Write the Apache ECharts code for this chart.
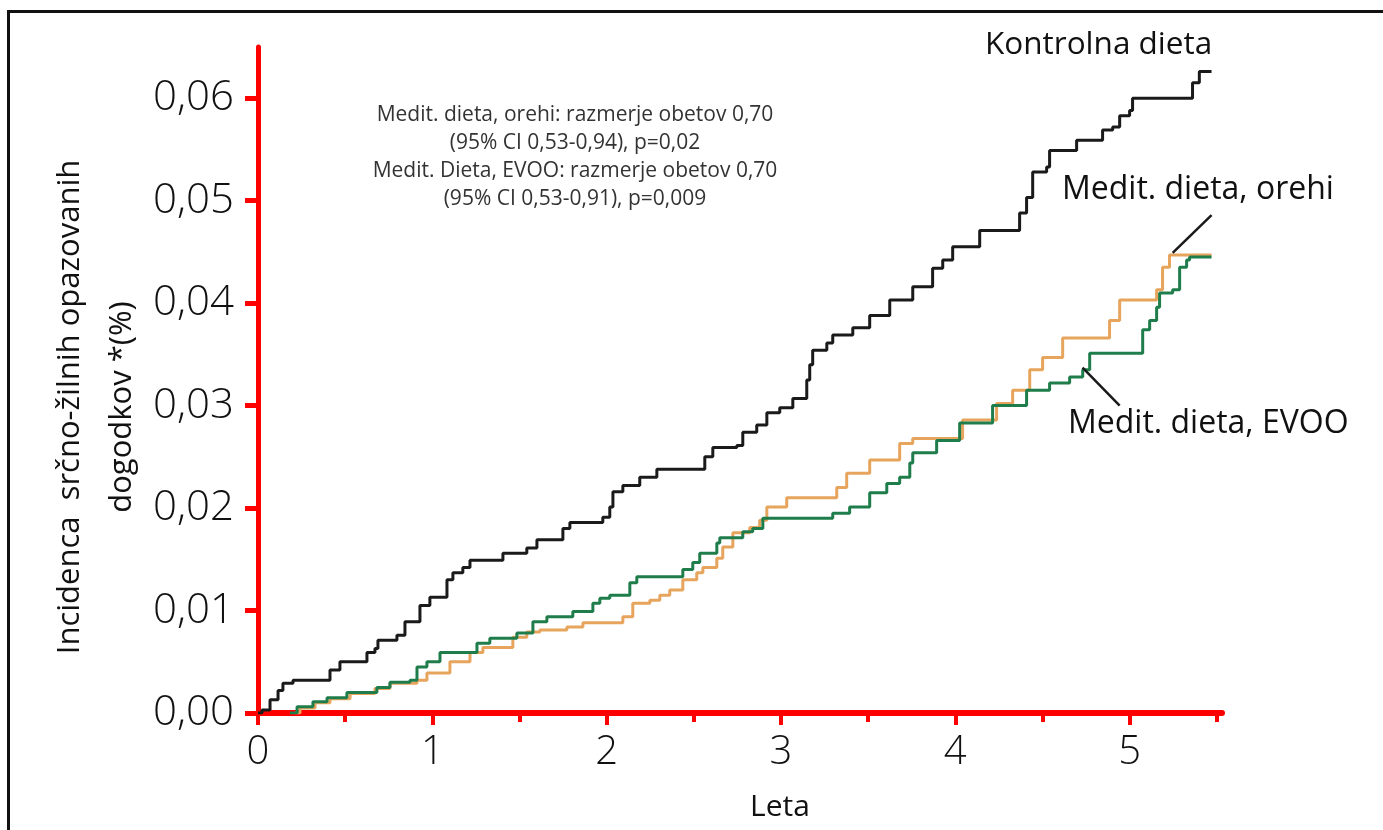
<!DOCTYPE html>
<html>
<head>
<meta charset="utf-8">
<title>Incidenca srčno-žilnih dogodkov</title>
<script src="https://cdn.jsdelivr.net/npm/echarts@6.0.0/dist/echarts.min.js"></script>
<style>
  html, body { margin: 0; padding: 0; background: #ffffff; }
  #char1 { width: 1383px; height: 830px; }
</style>
</head>
<body>
<div id="char1"></div>
<script>
// leta, kumulativna incidenca (step points: time of event, new level)
var controlData = [
    [0, 0], [0.023, 0.0003], [0.069, 0.0013], [0.115, 0.0022], [0.143, 0.0029], [0.201, 0.0032],
    [0.413, 0.0042], [0.470, 0.0050], [0.625, 0.0059], [0.671, 0.0063], [0.688, 0.0071], [0.797, 0.0076],
    [0.843, 0.0089], [0.929, 0.0105], [0.986, 0.0113], [1.084, 0.0130], [1.118, 0.0137], [1.175, 0.0142],
    [1.216, 0.0149], [1.405, 0.0156], [1.542, 0.0161], [1.600, 0.0169], [1.749, 0.0180], [1.789, 0.0186],
    [1.978, 0.0191], [2.018, 0.0201], [2.036, 0.0216], [2.093, 0.0222], [2.190, 0.0230], [2.288, 0.0238],
    [2.563, 0.0250], [2.609, 0.0259], [2.747, 0.0261], [2.781, 0.0274], [2.861, 0.0281], [2.919, 0.0293],
    [2.993, 0.0298], [3.068, 0.0307], [3.148, 0.0325], [3.165, 0.0340], [3.182, 0.0354], [3.263, 0.0361],
    [3.297, 0.0369], [3.412, 0.0376], [3.509, 0.0388], [3.624, 0.0403], [3.756, 0.0416], [3.870, 0.0434],
    [3.928, 0.0442], [3.985, 0.0455], [4.140, 0.0471], [4.369, 0.0488], [4.409, 0.0503], [4.444, 0.0528],
    [4.524, 0.0533], [4.541, 0.0549], [4.696, 0.0559], [4.845, 0.0569], [4.903, 0.0572], [4.943, 0.0583],
    [5.000, 0.0588], [5.017, 0.0600], [5.361, 0.0615], [5.400, 0.0626], [5.470, 0.0626]
];
var walnutData = [
    [0.212, 0], [0.241, 0.0005], [0.327, 0.0010], [0.413, 0.0014], [0.528, 0.0019], [0.671, 0.0024],
    [0.757, 0.0029], [0.912, 0.0032], [0.969, 0.0039], [1.101, 0.0050], [1.216, 0.0059], [1.290, 0.0064],
    [1.462, 0.0074], [1.542, 0.0079], [1.617, 0.0081], [1.772, 0.0084], [1.864, 0.0088], [2.093, 0.0094],
    [2.150, 0.0107], [2.248, 0.0110], [2.305, 0.0115], [2.362, 0.0120], [2.437, 0.0130], [2.517, 0.0137],
    [2.552, 0.0142], [2.632, 0.0151], [2.666, 0.0162], [2.724, 0.0176], [2.821, 0.0181], [2.878, 0.0188],
    [2.919, 0.0201], [3.033, 0.0210], [3.320, 0.0220], [3.377, 0.0234], [3.509, 0.0247], [3.681, 0.0263],
    [3.756, 0.0268], [4.042, 0.0286], [4.237, 0.0302], [4.329, 0.0315], [4.427, 0.0335], [4.501, 0.0347],
    [4.616, 0.0366], [4.885, 0.0383], [4.943, 0.0403], [5.155, 0.0413], [5.189, 0.0435], [5.229, 0.0447],
    [5.470, 0.0447]
];
var evooData = [
    [0.183, 0], [0.224, 0.0006], [0.315, 0.0011], [0.396, 0.0015], [0.510, 0.0020], [0.682, 0.0025],
    [0.757, 0.0030], [0.872, 0.0032], [0.912, 0.0045], [0.969, 0.0050], [1.044, 0.0059], [1.256, 0.0068],
    [1.330, 0.0073], [1.485, 0.0078], [1.577, 0.0089], [1.657, 0.0094], [1.806, 0.0099], [1.921, 0.0107],
    [1.961, 0.0112], [2.018, 0.0115], [2.133, 0.0127], [2.173, 0.0133], [2.437, 0.0140], [2.494, 0.0147],
    [2.534, 0.0156], [2.632, 0.0166], [2.649, 0.0171], [2.781, 0.0177], [2.838, 0.0180], [2.896, 0.0190],
    [3.297, 0.0195], [3.394, 0.0201], [3.509, 0.0215], [3.607, 0.0224], [3.681, 0.0230], [3.739, 0.0244],
    [3.756, 0.0254], [3.893, 0.0266], [4.025, 0.0283], [4.214, 0.0300], [4.409, 0.0315], [4.541, 0.0322],
    [4.656, 0.0328], [4.731, 0.0335], [4.771, 0.0351], [5.075, 0.0374], [5.115, 0.0383], [5.155, 0.0396],
    [5.172, 0.0410], [5.247, 0.0413], [5.287, 0.0435], [5.327, 0.0442], [5.344, 0.0445], [5.470, 0.0445]
];
var xMajorTicks = [0, 1, 2, 3, 4, 5];
var xMinorTicks = [0.5, 1.5, 2.5, 3.5, 4.5, 5.5];
var yTicks = [0, 0.01, 0.02, 0.03, 0.04, 0.05, 0.06];
var noteLines = [
    'Medit. dieta, orehi: razmerje obetov 0,70',
    '(95% CI 0,53-0,94), p=0,02',
    'Medit. Dieta, EVOO: razmerje obetov 0,70',
    '(95% CI 0,53-0,91), p=0,009'
];

var font = '"Open Sans", "Noto Sans", sans-serif';
var red = '#ff0000';

var myChart = echarts.init(document.getElementById('char1'));

option = {
    animation: false,
    backgroundColor: '#ffffff',
    grid: {
        left: 258,
        top: 47,
        width: 964,
        height: 666,
        outerBoundsMode: 'none'
    },
    xAxis: [{
        type: 'value',
        min: 0,
        max: 5.53,
        position: 'bottom',
        splitLine: { show: false },
        axisLine: { lineStyle: { color: red, width: 6 } },
        axisTick: { customValues: xMajorTicks, length: 12, lineStyle: { color: red, width: 4 } },
        axisLabel: {
            customValues: xMajorTicks,
            margin: 20,
            color: '#111',
            fontFamily: font,
            fontWeight: 300,
            fontSize: 40
        },
        name: 'Leta',
        nameLocation: 'middle',
        nameGap: 79,
        nameTextStyle: { color: '#111', fontFamily: font, fontSize: 30, padding: [0, 0, 0, 80] }
    }, {
        type: 'value',
        min: 0,
        max: 5.53,
        position: 'bottom',
        splitLine: { show: false },
        axisLine: { show: false },
        axisTick: { customValues: xMinorTicks, length: 9, lineStyle: { color: red, width: 4 } },
        axisLabel: { show: false }
    }],
    yAxis: {
        type: 'value',
        min: 0,
        max: 0.065,
        splitLine: { show: false },
        axisLine: { lineStyle: { color: red, width: 5 } },
        axisTick: { customValues: yTicks, length: 13, lineStyle: { color: red, width: 5 } },
        axisLabel: {
            customValues: yTicks,
            margin: 24,
            color: '#111',
            fontFamily: font,
            fontWeight: 300,
            fontSize: 42,
            formatter: function (v) { return v.toFixed(2).replace('.', ','); }
        }
    },
    graphic: [{
        type: 'rect',
        silent: true,
        shape: { x: 8.5, y: 11.5, width: 1500, height: 1000 },
        style: { fill: 'none', stroke: '#111', lineWidth: 3 }
    }, {
        type: 'text',
        x: 96,
        y: 407,
        rotation: Math.PI / 2,
        style: {
            text: 'Incidenca  srčno-žilnih opazovanih\ndogodkov *(%)',
            font: '31px ' + font,
            fill: '#111',
            align: 'center',
            verticalAlign: 'middle',
            lineHeight: 52
        }
    }, {
        type: 'text',
        x: 575,
        y: 157,
        style: {
            text: noteLines.join('\n'),
            font: '21px ' + font,
            fill: '#333',
            align: 'center',
            verticalAlign: 'middle',
            lineHeight: 28
        }
    }, {
        type: 'text',
        x: 985,
        y: 45,
        style: { text: 'Kontrolna dieta', font: '31.5px ' + font, fill: '#111', verticalAlign: 'middle' }
    }, {
        type: 'text',
        x: 1062,
        y: 190,
        style: { text: 'Medit. dieta, orehi', font: '32px ' + font, fill: '#111', verticalAlign: 'middle' }
    }, {
        type: 'text',
        x: 1068,
        y: 424,
        style: { text: 'Medit. dieta, EVOO', font: '32px ' + font, fill: '#111', verticalAlign: 'middle' }
    }],
    series: [{
        name: 'Kontrolna dieta',
        type: 'line',
        step: 'end',
        showSymbol: false,
        data: controlData,
        lineStyle: { color: '#1a1a1a', width: 3 },
        itemStyle: { color: '#1a1a1a' }
    }, {
        name: 'Medit. dieta, orehi',
        type: 'line',
        step: 'end',
        showSymbol: false,
        data: walnutData,
        lineStyle: { color: '#e6a45c', width: 3 },
        itemStyle: { color: '#e6a45c' },
        markLine: {
            silent: true,
            symbol: 'none',
            label: { show: false },
            lineStyle: { color: '#1a1a1a', width: 2.5, type: 'solid' },
            data: [[{ coord: [5.47, 0.0486] }, { coord: [5.247, 0.0449] }]]
        }
    }, {
        name: 'Medit. dieta, EVOO',
        type: 'line',
        step: 'end',
        showSymbol: false,
        data: evooData,
        lineStyle: { color: '#1f7d4c', width: 3 },
        itemStyle: { color: '#1f7d4c' },
        markLine: {
            silent: true,
            symbol: 'none',
            label: { show: false },
            lineStyle: { color: '#1a1a1a', width: 2.5, type: 'solid' },
            data: [[{ coord: [4.73, 0.0337] }, { coord: [4.943, 0.0300] }]]
        }
    }]
};

myChart.setOption(option);
window.addEventListener('resize', function () { myChart.resize(); });
</script>
</body>
</html>
